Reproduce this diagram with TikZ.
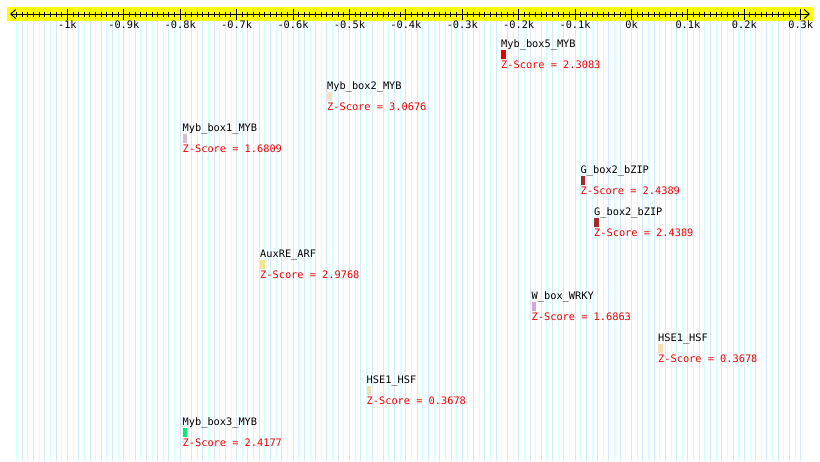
\documentclass[tikz,border=0pt]{standalone}
\usepackage{fontspec}
\setmonofont{DejaVu Sans Mono}
\usepackage{xcolor}
\definecolor{rulerYellow}{RGB}{255, 255, 0}
\definecolor{gridBlue}{RGB}{206, 236, 252}
\definecolor{gridCyan}{RGB}{210, 255, 255}
\definecolor{scoreRed}{RGB}{240, 0, 0}
\definecolor{barRed}{RGB}{228, 0, 0}
\definecolor{barPeach}{RGB}{255, 222, 185}
\definecolor{barThistle}{RGB}{216, 191, 216}
\definecolor{barBrown}{RGB}{165, 42, 42}
\definecolor{barKhaki}{RGB}{240, 230, 140}
\definecolor{barPlum}{RGB}{221, 160, 221}
\definecolor{barWheat}{RGB}{245, 222, 179}
\definecolor{barGreen}{RGB}{0, 238, 118}
\usepackage{tikz}
\usetikzlibrary{
    arrows.meta
}

\begin{document}
\begin{tikzpicture}[
    x=1pt, y=-1pt,
    rulerLabel/.style={
        font=\fontsize{10.3}{12}\selectfont\ttfamily, text=black,
        anchor=base, inner sep=0pt
    },
    motifName/.style={
        font=\fontsize{10.3}{12}\selectfont\ttfamily, text=black,
        anchor=base west, inner sep=0pt
    },
    zScore/.style={
        font=\fontsize{10.3}{12}\selectfont\ttfamily, text=scoreRed,
        anchor=base west, inner sep=0pt
    },
    motifBar/.style={
        rectangle, fill=#1, draw=none,
        minimum width=4.5pt, minimum height=9pt, inner sep=0pt
    },
    axisLine/.style={
        {Straight Barb[length=5pt, width=9pt]}-{Straight Barb[length=5pt, width=9pt]},
        line width=1pt, draw=black
    }
]

    % Canvas
    \fill[white] (0,0) rectangle (820,461);
    \useasboundingbox (0,0) rectangle (820,461);

    % Grid lines under the ruler
    \foreach \p in {-1090,-1070,...,300} {
        \pgfmathsetmacro{\xx}{631.5+0.5641*\p}
        \draw[gridCyan, line width=0.9pt] (\xx,21) -- (\xx,461);
    }
    \foreach \p in {-1080,-1060,...,300} {
        \pgfmathsetmacro{\xx}{631.5+0.5641*\p}
        \draw[gridBlue, line width=0.9pt] (\xx,21) -- (\xx,461);
    }

    % Ruler
    \fill[rulerYellow] (7,7) rectangle (813,21);
    \coordinate (axisStart) at (10,14);
    \coordinate (axisEnd) at (810,14);
    \draw[axisLine] (axisStart) -- (axisEnd);

    \foreach \p in {-1090,-1080,...,300} {
        \pgfmathsetmacro{\xx}{631.5+0.5641*\p}
        \draw[line width=1pt] (\xx,11.5) -- (\xx,17);
    }
    \foreach \p/\lab [count=\i] in {-1000/-1k, -900/-0.9k, -800/-0.8k, -700/-0.7k,
            -600/-0.6k, -500/-0.5k, -400/-0.4k, -300/-0.3k, -200/-0.2k,
            -100/-0.1k, 0/0k, 100/0.1k, 200/0.2k, 300/0.3k} {
        \pgfmathsetmacro{\xx}{631.5+0.5641*\p}
        \draw[line width=1pt] (\xx,9) -- (\xx,19.5);
        \node[rulerLabel] (tick\i) at (\xx,28) {\lab};
    }

    % Motif hits
    \node[motifName] (mybBoxFive) at (501,47.5) {Myb\_box5\_MYB};
    \node[motifBar=barRed] (mybBoxFiveBar) at (503.5,54) {};
    \node[zScore] (mybBoxFiveScore) at (501,68.5) {Z-Score = 2.3083};

    \node[motifName] (mybBoxTwo) at (327,89.5) {Myb\_box2\_MYB};
    \node[motifBar=barPeach] (mybBoxTwoBar) at (329.5,96) {};
    \node[zScore] (mybBoxTwoScore) at (327,110.5) {Z-Score = 3.0676};

    \node[motifName] (mybBoxOne) at (182.5,131.5) {Myb\_box1\_MYB};
    \node[motifBar=barThistle] (mybBoxOneBar) at (185,138) {};
    \node[zScore] (mybBoxOneScore) at (182.5,152.5) {Z-Score = 1.6809};

    \node[motifName] (gBoxA) at (580.5,173.5) {G\_box2\_bZIP};
    \node[motifBar=barBrown] (gBoxABar) at (583,180) {};
    \node[zScore] (gBoxAScore) at (580.5,194.5) {Z-Score = 2.4389};

    \node[motifName] (gBoxB) at (594,215.5) {G\_box2\_bZIP};
    \node[motifBar=barBrown] (gBoxBBar) at (596.5,222) {};
    \node[zScore] (gBoxBScore) at (594,236.5) {Z-Score = 2.4389};

    \node[motifName] (auxRE) at (260,257.5) {AuxRE\_ARF};
    \node[motifBar=barKhaki] (auxREBar) at (262.5,264) {};
    \node[zScore] (auxREScore) at (260,278.5) {Z-Score = 2.9768};

    \node[motifName] (wBox) at (531.5,299.5) {W\_box\_WRKY};
    \node[motifBar=barPlum] (wBoxBar) at (534,306) {};
    \node[zScore] (wBoxScore) at (531.5,320.5) {Z-Score = 1.6863};

    \node[motifName] (hseA) at (658,341.5) {HSE1\_HSF};
    \node[motifBar=barWheat] (hseABar) at (660.5,348) {};
    \node[zScore] (hseAScore) at (658,362.5) {Z-Score = 0.3678};

    \node[motifName] (hseB) at (366.5,383.5) {HSE1\_HSF};
    \node[motifBar=barWheat] (hseBBar) at (369,390) {};
    \node[zScore] (hseBScore) at (366.5,404.5) {Z-Score = 0.3678};

    \node[motifName] (mybBoxThree) at (182.5,425.5) {Myb\_box3\_MYB};
    \node[motifBar=barGreen] (mybBoxThreeBar) at (185,432) {};
    \node[zScore] (mybBoxThreeScore) at (182.5,446.5) {Z-Score = 2.4177};

\end{tikzpicture}
\end{document}
